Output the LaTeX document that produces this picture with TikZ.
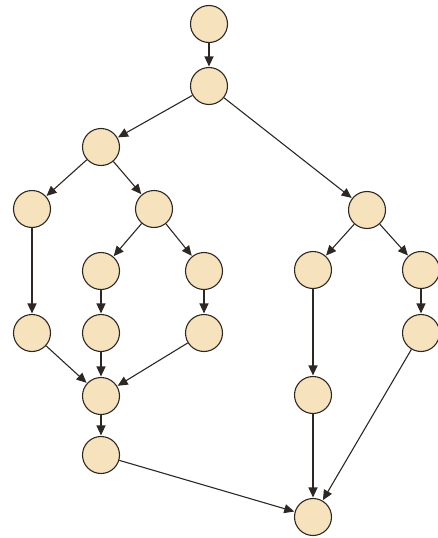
\documentclass[tikz,border=0pt]{standalone}
\usepackage{tikz}
\usetikzlibrary{arrows.meta}
\definecolor{nodefill}{RGB}{246,226,188}
\definecolor{edgegray}{RGB}{45,40,35}

\begin{document}
\begin{tikzpicture}[x=1pt,y=-1pt,
  vertex/.style={circle, draw=edgegray, fill=nodefill, line width=1.1pt, minimum size=37pt, inner sep=0pt},
  arc/.style={-{Triangle[length=10pt,width=9pt]}, line width=1.1pt, edgegray, shorten >=0.5pt}]
\useasboundingbox (0,0) rectangle (437,538);
\node[vertex] (a) at (209,24) {};
\node[vertex] (b) at (209,86) {};
\node[vertex] (c) at (101,147) {};
\node[vertex] (d) at (32,209) {};
\node[vertex] (e) at (154,209) {};
\node[vertex] (f) at (101,271) {};
\node[vertex] (g) at (204,271) {};
\node[vertex] (h) at (32,333) {};
\node[vertex] (i) at (101,333) {};
\node[vertex] (j) at (204,333) {};
\node[vertex] (k) at (101,396) {};
\node[vertex] (l) at (101,455) {};
\node[vertex] (m) at (367,210) {};
\node[vertex] (n) at (313,270) {};
\node[vertex] (o) at (421,270) {};
\node[vertex] (p) at (421,333) {};
\node[vertex] (q) at (313,395) {};
\node[vertex] (r) at (313,517) {};
\draw[arc] (a) -- (b);
\draw[arc] (b) -- (c);
\draw[arc] (b) -- (m);
\draw[arc] (c) -- (d);
\draw[arc] (c) -- (e);
\draw[arc] (d) -- (h);
\draw[arc] (e) -- (f);
\draw[arc] (e) -- (g);
\draw[arc] (f) -- (i);
\draw[arc] (g) -- (j);
\draw[arc] (h) -- (k);
\draw[arc] (i) -- (k);
\draw[arc] (j) -- (k);
\draw[arc] (k) -- (l);
\draw[arc] (l) -- (r);
\draw[arc] (m) -- (n);
\draw[arc] (m) -- (o);
\draw[arc] (n) -- (q);
\draw[arc] (o) -- (p);
\draw[arc] (q) -- (r);
\draw[arc] (p) -- (r);
\end{tikzpicture}
\end{document}
